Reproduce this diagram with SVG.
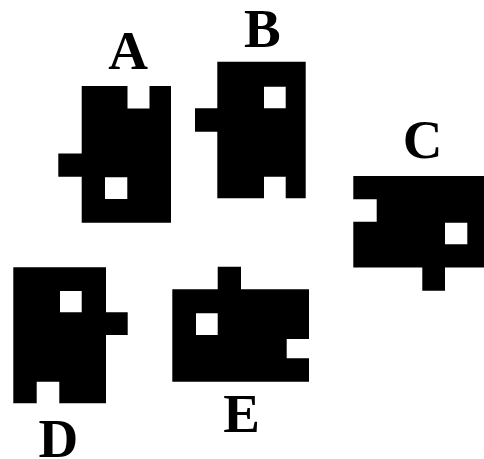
<svg xmlns="http://www.w3.org/2000/svg" width="484" height="459" viewBox="0 0 484 459">
<style>
.s{fill:#000;fill-rule:evenodd}
.l{font-family:"Liberation Serif",serif;font-weight:bold;font-size:55px;text-anchor:middle;fill:#000}
</style>
<rect width="484" height="459" fill="#fff"/>
<g id="A">
<path class="s" d="M81.7,86 H127.5 V108.5 H149.5 V86 H171 V222.7 H81.7 V176.7 H58.3 V153.5 H81.7 Z M105,177.3 H127.3 V199 H105 Z"/>
<text class="l" x="128" y="68.5">A</text>
</g>
<g id="B">
<path class="s" d="M217.3,61.7 H305.7 V198.3 H285.7 V176.7 H264 V198.3 H217.3 V131.7 H195 V108.3 H217.3 Z M264,86.7 H285.7 V108.3 H264 Z"/>
<text class="l" x="262.3" y="46.7">B</text>
</g>
<g id="C">
<path class="s" d="M353.3,176 H490 V267.5 H445 V290.7 H422.3 V267.5 H353.3 V221.7 H376.7 V199.3 H353.3 Z M445,222.7 H467.3 V244.3 H445 Z"/>
<text class="l" x="422.5" y="157.5">C</text>
</g>
<g id="D">
<path class="s" d="M13.3,267.3 H106 V312.3 H127.7 V335 H106 V403.3 H59.3 V381.7 H36.7 V403.3 H13.3 Z M60,291 H81.7 V312.3 H60 Z"/>
<text class="l" x="58.3" y="456.5">D</text>
</g>
<g id="E">
<path class="s" d="M172.3,289.3 H217.7 V266.7 H241 V289.3 H309 V339 H286.7 V358.3 H309 V381.7 H172.3 Z M196,313.3 H217.7 V335 H196 Z"/>
<text class="l" x="241.7" y="431.7">E</text>
</g>
</svg>
